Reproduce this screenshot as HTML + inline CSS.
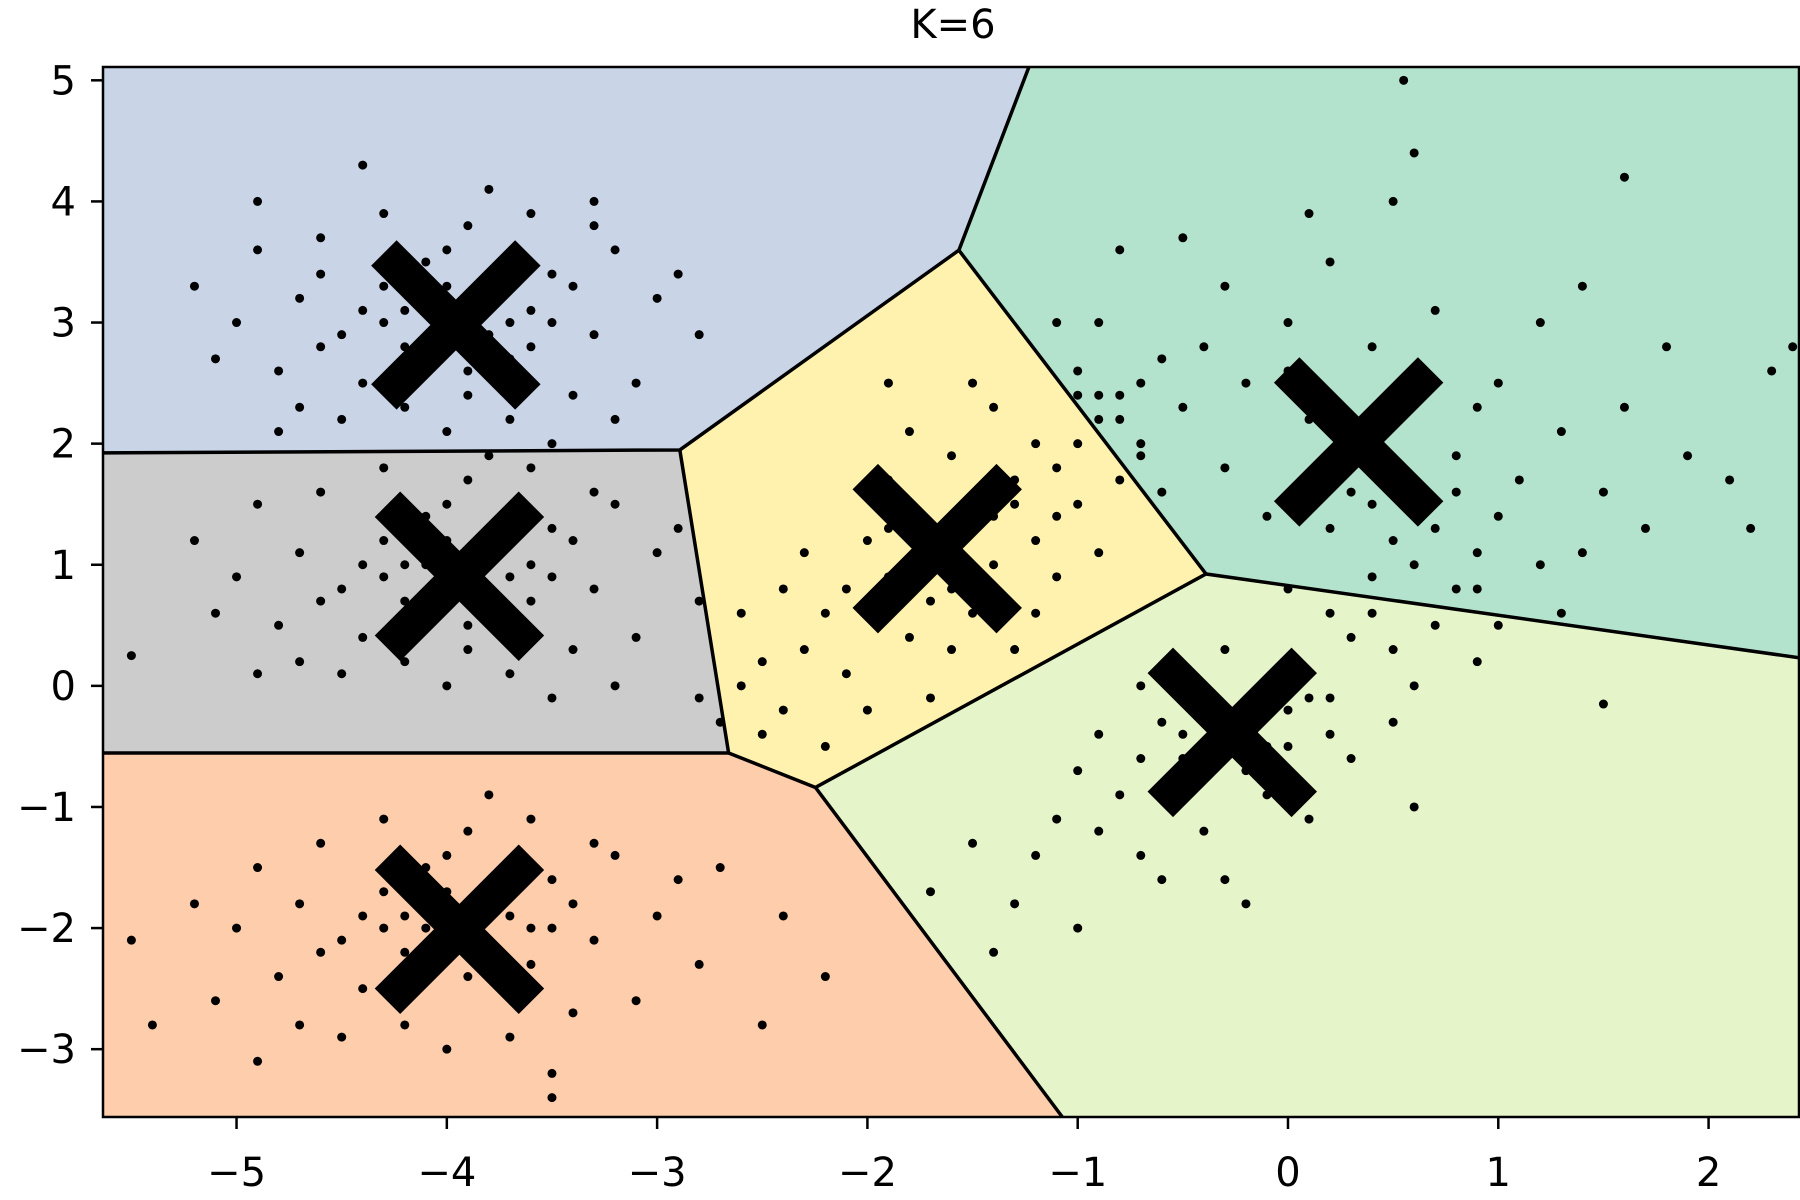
<!DOCTYPE html>
<html><head><meta charset="utf-8"><style>
html,body{margin:0;padding:0;background:#fff;}
svg{display:block;font-family:"DejaVu Sans","Liberation Sans",sans-serif;}
</style></head><body>
<svg id="chart" width="1800" height="1200" viewBox="0 0 1800 1200" xmlns="http://www.w3.org/2000/svg">
<defs><clipPath id="clip"><rect x="103" y="67" width="1696" height="1050"/></clipPath></defs>
<text x="953" y="38" font-size="40" text-anchor="middle">K=6</text>
<g id="regions" clip-path="url(#clip)"></g>
<g id="points" clip-path="url(#clip)"></g>
<g id="centroids" clip-path="url(#clip)"></g>
<rect x="103" y="67" width="1696" height="1050" fill="none" stroke="#000" stroke-width="2.5"/>
<g id="axes"></g>
</svg>
<script>
const xTicks=[-5,-4,-3,-2,-1,0,1,2];
const yTicks=[-3,-2,-1,0,1,2,3,4,5];
const xMin=-5.635,xMax=2.43,yMin=-3.56,yMax=5.11;
const L=103,R=1799,T=67,B=1117;
const X=v=>L+(v-xMin)/(xMax-xMin)*(R-L);
const Y=v=>B-(v-yMin)/(yMax-yMin)*(B-T);
const regionNames=['region-top-left','region-middle-left','region-bottom-left','region-center','region-top-right','region-bottom-right'];
const regionColors=['#c9d4e7','#cccccc','#fdcdac','#fff2ae','#b3e2cd','#e6f5c9'];
const regionPolys=[
 [[-6,5.5],[-1.232,5.11],[-1.565,3.597],[-2.892,1.948],[-6,1.92]],
 [[-6,1.92],[-2.892,1.948],[-2.66,-0.554],[-6,-0.554]],
 [[-6,-0.554],[-2.66,-0.554],[-2.247,-0.839],[-1.073,-3.56],[-6,-4]],
 [[-2.892,1.948],[-1.565,3.597],[-0.39,0.924],[-2.247,-0.839],[-2.66,-0.554]],
 [[-1.232,5.11],[3,5.5],[3,0.232],[2.43,0.232],[-0.39,0.924],[-1.565,3.597]],
 [[-0.39,0.924],[2.43,0.232],[3,0.232],[3,-4],[-1.073,-3.56],[-2.247,-0.839]]
];
const boundaryLines=[
 [[-6,1.92],[-2.892,1.948],[-1.565,3.597],[-1.232,5.11]],
 [[-6,-0.554],[-2.66,-0.554],[-2.892,1.948]],
 [[-2.66,-0.554],[-2.247,-0.839],[-1.073,-3.56]],
 [[-2.247,-0.839],[-0.39,0.924],[2.43,0.232]],
 [[-1.565,3.597],[-0.39,0.924]]
];
const centroidXs=[-3.957,-3.94,-3.94,-1.668,-0.265,0.336];
const centroidYs=[2.98,0.905,-2.01,1.133,-0.384,2.014];
const cluster1=[[-4.0,3.0],[-3.8,3.2],[-4.2,2.8],[-3.9,2.6],[-4.3,3.3],[-3.6,3.1],[-4.5,2.9],[-3.7,2.7],[-4.1,3.5],[-3.5,3.4],[-4.4,2.5],[-3.3,2.9],[-4.7,3.2],[-3.9,3.8],[-4.2,2.3],[-3.4,2.4],[-4.8,2.6],[-3.2,3.6],[-4.6,3.7],[-3.0,3.2],[-5.0,3.0],[-4.9,3.6],[-3.1,2.5],[-4.3,3.9],[-3.6,3.9],[-2.9,3.4],[-5.2,3.3],[-4.0,2.1],[-3.7,2.2],[-4.5,2.2],[-3.8,4.1],[-4.4,4.3],[-3.3,3.8],[-4.9,4.0],[-5.1,2.7],[-2.8,2.9],[-3.5,2.0],[-4.7,2.3],[-4.1,3.1],[-3.9,2.9],[-4.2,3.1],[-3.8,2.9],[-4.0,3.3],[-4.3,3.0],[-3.7,3.0],[-4.1,2.7],[-3.6,2.8],[-4.4,3.1],[-3.5,3.0],[-3.4,3.3],[-4.6,2.8],[-4.0,3.6],[-3.9,2.4],[-4.2,2.6],[-3.2,2.2],[-4.8,2.1],[-3.3,4.0],[-4.6,3.4]];
const cluster2=[[-4.0,0.9],[-3.8,1.1],[-4.2,0.7],[-3.9,0.5],[-4.3,1.2],[-3.6,1.0],[-4.5,0.8],[-3.7,0.6],[-4.1,1.4],[-3.5,1.3],[-4.4,0.4],[-3.3,0.8],[-4.7,1.1],[-3.9,1.7],[-4.2,0.2],[-3.4,0.3],[-4.8,0.5],[-3.2,1.5],[-4.6,1.6],[-3.0,1.1],[-5.0,0.9],[-4.9,1.5],[-3.1,0.4],[-4.3,1.8],[-3.6,1.8],[-2.9,1.3],[-5.2,1.2],[-4.0,0.0],[-3.7,0.1],[-4.5,0.1],[-3.8,1.9],[-3.3,1.6],[-5.1,0.6],[-2.8,0.7],[-3.5,-0.1],[-4.7,0.2],[-4.1,1.0],[-3.9,0.8],[-4.2,1.0],[-3.8,0.8],[-4.0,1.2],[-4.3,0.9],[-3.7,0.9],[-4.1,0.6],[-3.6,0.7],[-4.4,1.0],[-3.5,0.9],[-3.4,1.2],[-4.6,0.7],[-4.0,1.5],[-3.9,0.3],[-4.2,0.5],[-5.5,0.25],[-2.8,-0.1],[-4.9,0.1],[-3.2,0.0]];
const cluster3=[[-4.0,-2.0],[-3.8,-1.8],[-4.2,-2.2],[-3.9,-2.4],[-4.3,-1.7],[-3.6,-2.0],[-4.5,-2.1],[-3.7,-2.3],[-4.1,-1.5],[-3.5,-1.6],[-4.4,-2.5],[-3.3,-2.1],[-4.7,-1.8],[-3.9,-1.2],[-4.2,-2.8],[-3.4,-2.7],[-4.8,-2.4],[-3.2,-1.4],[-4.6,-1.3],[-3.0,-1.9],[-5.0,-2.0],[-4.9,-1.5],[-3.1,-2.6],[-4.3,-1.1],[-3.6,-1.1],[-2.9,-1.6],[-5.2,-1.8],[-4.0,-3.0],[-3.7,-2.9],[-4.5,-2.9],[-3.8,-0.9],[-3.3,-1.3],[-5.1,-2.6],[-2.8,-2.3],[-3.5,-3.2],[-4.7,-2.8],[-4.1,-2.0],[-3.9,-2.1],[-4.2,-1.9],[-3.8,-2.1],[-4.0,-1.7],[-4.3,-2.0],[-3.7,-1.9],[-4.1,-2.3],[-3.6,-2.3],[-4.4,-1.9],[-3.5,-2.0],[-3.4,-1.8],[-4.6,-2.2],[-4.0,-1.4],[-5.5,-2.1],[-2.5,-2.8],[-2.7,-1.5],[-2.2,-2.4],[-5.4,-2.8],[-2.4,-1.9],[-3.5,-3.4],[-4.9,-3.1]];
const cluster4=[[-1.7,1.1],[-1.5,1.3],[-1.9,0.9],[-1.6,0.8],[-2.0,1.2],[-1.3,1.5],[-2.2,0.6],[-1.4,1.0],[-1.8,1.5],[-1.1,1.8],[-2.3,0.3],[-1.2,1.2],[-2.4,0.8],[-1.0,2.0],[-2.1,0.1],[-1.5,0.6],[-2.5,0.2],[-0.9,2.2],[-1.9,1.7],[-1.2,2.0],[-2.6,0.0],[-1.6,1.9],[-1.8,0.4],[-1.0,1.5],[-2.0,-0.2],[-0.8,1.7],[-2.3,1.1],[-1.4,2.3],[-1.7,-0.1],[-1.1,0.9],[-2.5,-0.4],[-1.3,0.3],[-2.0,1.6],[-1.5,2.5],[-2.2,-0.5],[-0.9,1.1],[-1.6,1.2],[-1.8,1.0],[-1.7,0.7],[-1.4,1.4],[-1.9,1.3],[-1.5,0.9],[-2.1,0.8],[-1.3,1.7],[-1.2,0.6],[-1.0,2.4],[-1.8,2.1],[-2.4,-0.2],[-0.7,1.9],[-2.6,0.6],[-1.1,1.4],[-1.6,0.3],[-0.8,2.4],[-1.9,2.5],[-2.7,-0.3]];
const cluster5=[[-0.3,-0.4],[-0.1,-0.2],[-0.5,-0.6],[-0.2,-0.7],[-0.6,-0.3],[0.1,0.1],[-0.8,-0.9],[0.0,-0.5],[-0.4,-0.1],[0.3,0.4],[-0.9,-1.2],[0.2,-0.1],[-1.0,-0.7],[0.4,0.6],[-0.7,-1.4],[-0.1,-0.9],[-1.1,-1.1],[0.5,0.3],[-0.5,0.1],[0.2,0.6],[-1.2,-1.4],[-0.3,0.3],[-0.4,-1.2],[0.6,0.0],[-0.6,-1.6],[0.7,0.5],[-0.9,-0.4],[0.0,0.8],[-0.3,-1.6],[0.3,-0.6],[-1.3,-1.8],[0.1,-1.1],[-0.7,0.0],[0.8,0.8],[-1.0,-2.0],[0.5,-0.3],[-0.2,-0.3],[-0.4,-0.5],[-0.3,-0.6],[0.0,-0.2],[-0.5,-0.4],[-0.1,-0.5],[-0.7,-0.6],[0.1,-0.1],[0.2,-0.4],[0.4,0.9],[-0.6,-0.9],[-1.5,-1.3],[0.9,0.2],[-1.4,-2.2],[1.0,0.5],[-0.2,-1.8],[0.6,-1.0],[-1.7,-1.7],[1.5,-0.15]];
const cluster6=[[0.3,2.0],[0.5,1.8],[0.1,2.2],[-0.7,2.5],[-0.8,2.2],[-0.6,2.7],[-0.9,2.4],[-0.5,2.3],[-1.0,2.6],[-0.7,2.0],[-0.4,2.8],[0.7,1.3],[0.9,1.1],[0.6,1.0],[1.0,1.4],[0.8,1.6],[0.5,1.2],[1.2,1.0],[0.4,1.5],[1.1,1.7],[0.0,3.0],[-0.3,3.3],[0.2,3.5],[-0.5,3.7],[0.4,2.8],[0.7,3.1],[-0.2,2.5],[0.9,2.3],[1.3,2.1],[1.6,2.3],[1.9,1.9],[2.1,1.7],[2.3,2.6],[1.5,1.6],[1.8,2.8],[-0.8,3.6],[0.5,4.0],[1.6,4.2],[0.55,5.0],[0.6,4.4],[-0.1,1.4],[0.2,1.3],[1.4,1.1],[1.7,1.3],[-0.3,1.8],[0.0,2.6],[1.0,2.5],[1.2,3.0],[-0.6,1.6],[1.4,3.3],[2.2,1.3],[-0.9,3.0],[0.1,3.9],[0.8,1.9],[1.3,0.6],[0.9,0.8],[-1.1,3.0],[2.4,2.8],[0.3,1.6],[0.6,2.4]];
const clusters=[cluster1,cluster2,cluster3,cluster4,cluster5,cluster6];
const NS='http://www.w3.org/2000/svg';
function mk(tag,attrs,parent){const e=document.createElementNS(NS,tag);for(const k in attrs)e.setAttribute(k,attrs[k]);parent.appendChild(e);return e;}
const gR=document.getElementById('regions');
regionPolys.forEach((p,i)=>{
 const e=mk('polygon',{points:p.map(q=>X(q[0])+','+Y(q[1])).join(' '),fill:regionColors[i]},gR);
 
 
});
boundaryLines.forEach(l=>{
 const e=mk('polyline',{points:l.map(q=>X(q[0])+','+Y(q[1])).join(' '),fill:'none',stroke:'#000','stroke-width':3.5},gR);
 
 
});
const gP=document.getElementById('points');
clusters.forEach(c=>c.forEach(q=>{
 const e=mk('circle',{cx:X(q[0]),cy:Y(q[1]),r:4.5,fill:'#000'},gP);
 
 
}));
const gC=document.getElementById('centroids');
centroidXs.forEach((cx,i)=>{
 const x=X(cx),y=Y(centroidYs[i]),h=72;
 const g=mk('g',{stroke:'#000','stroke-width':36,'stroke-linecap':'butt'},gC);
 
 
 mk('line',{x1:x-h,y1:y-h,x2:x+h,y2:y+h},g);
 mk('line',{x1:x-h,y1:y+h,x2:x+h,y2:y-h},g);
});
const gA=document.getElementById('axes');
xTicks.forEach(v=>{
 const x=X(v);
 const t=mk('line',{x1:x,y1:B,x2:x,y2:B+12,stroke:'#000','stroke-width':2.5},gA);
 
 
 const s=mk('text',{x:x,y:1186,'font-size':40,'text-anchor':'middle'},gA);
 s.textContent=(v<0?'\u2212'+(-v):''+v);
 
 
});
yTicks.forEach(v=>{
 const y=Y(v);
 const t=mk('line',{x1:L-12,y1:y,x2:L,y2:y,stroke:'#000','stroke-width':2.5},gA);
 
 
 const s=mk('text',{x:76,y:y+14,'font-size':40,'text-anchor':'end'},gA);
 s.textContent=(v<0?'\u2212'+(-v):''+v);
 
 
});
</script>
</body></html>
